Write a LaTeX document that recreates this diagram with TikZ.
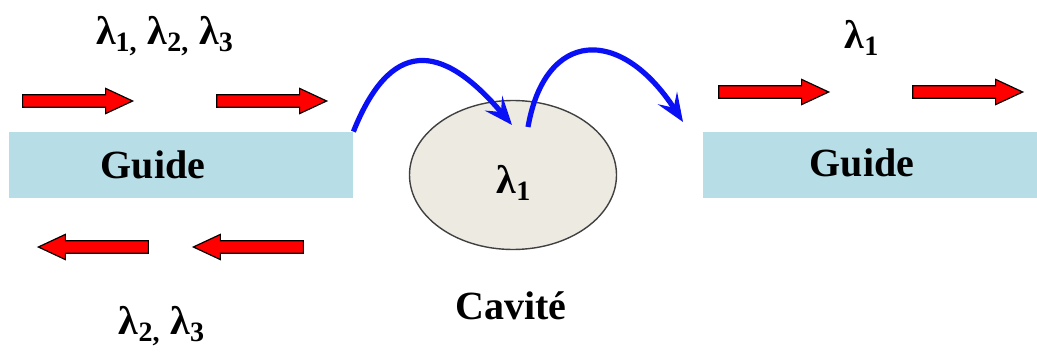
\documentclass[tikz,border=0pt]{standalone}
\usepackage{fontspec}
\setmainfont{Liberation Serif}
\usetikzlibrary{arrows.meta,positioning,shapes.geometric,shapes.arrows}
\definecolor{guideblue}{HTML}{B7DDE7}
\definecolor{cavitybeige}{HTML}{ECEAE1}
\definecolor{beamred}{HTML}{FF0000}
\definecolor{hopblue}{HTML}{0A10F5}

\begin{document}
\begin{tikzpicture}[
  x=0.5pt, y=-0.5pt,
  guide/.style={fill=guideblue, minimum width=172pt, minimum height=33pt, inner sep=0pt},
  lbl/.style={font=\fontsize{20}{24}\selectfont\bfseries, inner sep=0pt},
  cavity/.style={ellipse, draw=black!75, line width=0.7pt, fill=cavitybeige, minimum width=103.5pt, minimum height=74.5pt, inner sep=0pt},
  beam/.style={single arrow, draw=black, line width=0.6pt, fill=beamred, minimum height=55pt, minimum width=12pt, inner xsep=0pt, inner ysep=2.8pt, single arrow head extend=3.2pt, single arrow tip angle=50},
  hop/.style={-{Stealth[length=5mm, width=4mm, inset=2mm]}, line width=2.6pt, draw=hopblue}
]
\useasboundingbox (0,0) rectangle (1037,353);

% guides and cavity
\node[guide] (lguide) at (181,165) {};
\node[guide, minimum width=167pt] (rguide) at (870,165) {};
\node[lbl] (ltxt) at (153,165) {Guide};
\node[lbl] (rtxt) at (862,163) {Guide};
\node[cavity] (cav) at (513,175) {};
\node[lbl] (cavlam) at (514,183) {λ\textsubscript{1}};
\node[lbl] (cavname) at (511,306) {Cavité};

% wavelengths
\node[lbl] (inlam) at (165,36) {λ\textsubscript{1,} λ\textsubscript{2,} λ\textsubscript{3}};
\node[lbl] (outlam) at (862,38) {λ\textsubscript{1}};
\node[lbl] (backlam) at (162,326) {λ\textsubscript{2,} λ\textsubscript{3}};

% red beams
\node[beam] (in1) at (71,101) {};
\node[beam] (in2) at (265,101) {};
\node[beam] (out1) at (767,92) {};
\node[beam] (out2) at (961,92) {};
\node[beam, shape border rotate=180] (back1) at (100,247) {};
\node[beam, shape border rotate=180] (back2) at (255,247) {};

% coupling in and out of the cavity
\coordinate (dropin) at (512,125);
\coordinate (dropout) at (528,127);
\coordinate (exit) at (683,122);
\draw[hop] (lguide.north east) .. controls (390,40) and (440,40) .. (dropin);
\draw[hop] (dropout) .. controls (545,30) and (620,25) .. (exit);
\end{tikzpicture}
\end{document}
